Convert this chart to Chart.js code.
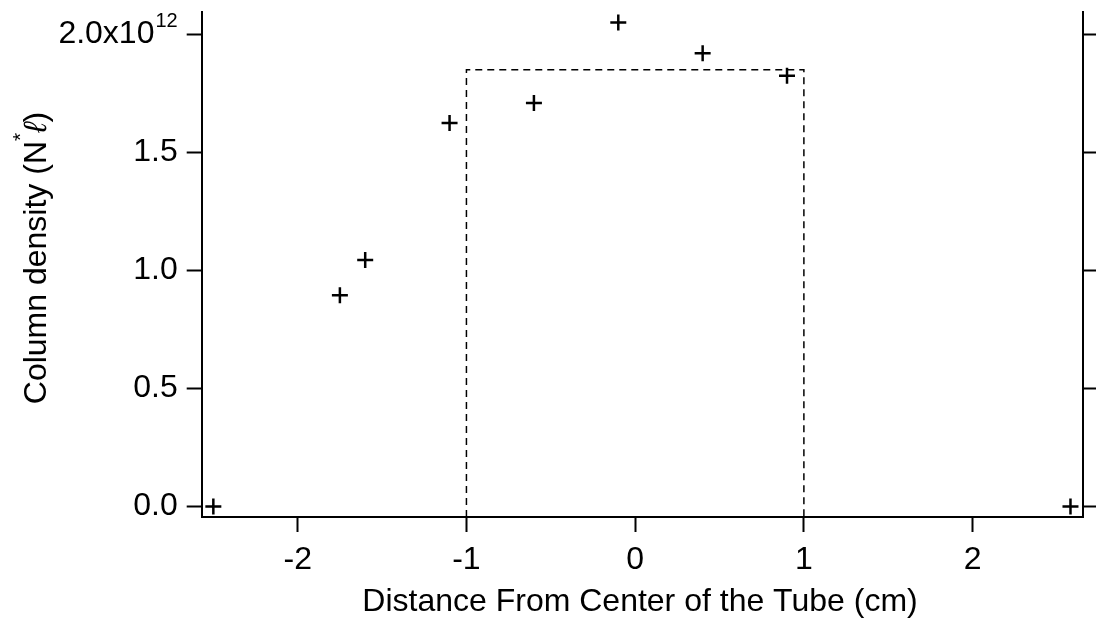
<!DOCTYPE html>
<html lang="en">
<head>
  <meta charset="UTF-8">
  <title>Column density</title>
  <script src="https://cdn.jsdelivr.net/npm/chart.js"></script>
  <style>
    body {
      margin: 0;
      background: white;
    }
  </style>
</head>
<body>
  <canvas id="densityChart" width="1096" height="621"></canvas>

  <script>
    // measured points (distance in cm, density in units of N*l)
    const distance = [-2.5, -1.75, -1.6, -1.1, -0.6, -0.1, 0.4, 0.9, 2.58];
    const density = [0, 0.895e12, 1.045e12, 1.625e12, 1.71e12, 2.05e12, 1.92e12, 1.825e12, 0];

    // dashed box showing the tube
    const boxX = [-1, -1, 1, 1];
    const boxTop = 1.85e12;

    const xTicks = [-2, -1, 0, 1, 2];
    const yTicks = [0, 0.5e12, 1.0e12, 1.5e12, 2.0e12];

    const xMin = -2.569, xMax = 2.656;
    const yMin = -0.044e12, yMax = 2.095e12;

    const FONT = "'Liberation Sans', Arial, sans-serif";

    const boxY = [yMin, boxTop, boxTop, yMin];

    const titlesPlugin = {
      id: 'titles',
      afterDraw(chart) {
        const c = chart.ctx;
        const ys = chart.scales.y;
        c.save();
        c.fillStyle = '#000';

        // top tick label with superscript exponent
        const ty = ys.getPixelForValue(2.0e12);
        c.font = '20px ' + FONT;
        const wExp = c.measureText('12').width;
        const right = ys.right - 15 - 9;
        c.textBaseline = 'alphabetic';
        c.textAlign = 'left';
        c.fillText('12', right - wExp, ty - 7);
        c.font = '32px ' + FONT;
        c.textAlign = 'right';
        c.textBaseline = 'middle';
        c.fillText('2.0x10', right - wExp - 1, ty);

        // x title
        c.textAlign = 'center';
        c.textBaseline = 'alphabetic';
        c.font = '32px ' + FONT;
        c.fillText('Distance From Center of the Tube (cm)', 640, 611);

        // y title, rotated, with superscript star and script l
        const parts = [
          { t: 'Column density (N', f: '32px ' + FONT, dy: 0 },
          { t: '*', f: '21px ' + FONT, dy: -19 },
          { t: '\u2113', f: 'italic 32px ' + FONT + ", 'DejaVu Sans'", dy: 0 },
          { t: ')', f: '32px ' + FONT, dy: 0 }
        ];
        let total = 0;
        parts.forEach(p => { c.font = p.f; p.w = c.measureText(p.t).width; total += p.w; });
        c.translate(46, 258);
        c.rotate(-Math.PI / 2);
        c.textAlign = 'left';
        let px = -total / 2;
        parts.forEach(p => {
          c.font = p.f;
          c.fillText(p.t, px, p.dy);
          px += p.w;
        });
        c.restore();
      }
    };

    const noPad = s => { s.paddingTop = 0; s.paddingBottom = 0; s.paddingLeft = 0; s.paddingRight = 0; };

    new Chart(document.getElementById('densityChart'), {
      type: 'scatter',
      data: {
        datasets: [
          {
            label: 'Column density',
            data: distance.map((x, i) => ({ x: x, y: density[i] })),
            showLine: false,
            pointStyle: 'cross',
            pointRadius: 8,
            pointHoverRadius: 8,
            pointBorderWidth: 2.5,
            borderColor: '#000',
            backgroundColor: '#000'
          },
          {
            label: 'Tube',
            data: boxX.map((x, i) => ({ x: x, y: boxY[i] })),
            showLine: true,
            pointRadius: 0,
            borderColor: '#000',
            borderWidth: 1.5,
            borderDash: [7, 5],
            fill: false
          }
        ]
      },
      options: {
        responsive: false,
        animation: false,
        layout: { padding: { top: 12, left: 0, right: 0, bottom: 0 } },
        plugins: {
          legend: { display: false },
          tooltip: { enabled: false }
        },
        scales: {
          x: {
            type: 'linear',
            position: 'bottom',
            min: xMin,
            max: xMax,
            afterFit: s => { s.height = 104; noPad(s); },
            afterBuildTicks: s => { s.ticks = xTicks.map(v => ({ value: v })); },
            ticks: {
              color: '#000',
              font: { family: FONT, size: 32 },
              padding: 9,
              callback: v => String(v)
            },
            grid: {
              drawOnChartArea: false,
              tickLength: 15,
              tickWidth: 2,
              tickColor: '#000'
            },
            border: { display: true, color: '#000', width: 2 }
          },
          y: {
            type: 'linear',
            position: 'left',
            min: yMin,
            max: yMax,
            afterFit: s => { s.width = 201.7; noPad(s); },
            afterBuildTicks: s => { s.ticks = yTicks.map(v => ({ value: v })); },
            ticks: {
              color: '#000',
              font: { family: FONT, size: 32 },
              padding: 9,
              callback: v => (v === 2.0e12 ? '' : (v / 1e12).toFixed(1))
            },
            grid: {
              drawOnChartArea: false,
              tickLength: 15,
              tickWidth: 2,
              tickColor: '#000'
            },
            border: { display: true, color: '#000', width: 2 }
          },
          y2: {
            type: 'linear',
            position: 'right',
            display: true,
            min: yMin,
            max: yMax,
            afterFit: s => { s.width = 12.7; noPad(s); },
            afterBuildTicks: s => { s.ticks = yTicks.map(v => ({ value: v })); },
            ticks: { display: false },
            grid: {
              drawOnChartArea: false,
              tickLength: 15,
              tickWidth: 2,
              tickColor: '#000'
            },
            border: { display: true, color: '#000', width: 2 }
          }
        }
      },
      plugins: [titlesPlugin]
    });
  </script>
</body>
</html>
